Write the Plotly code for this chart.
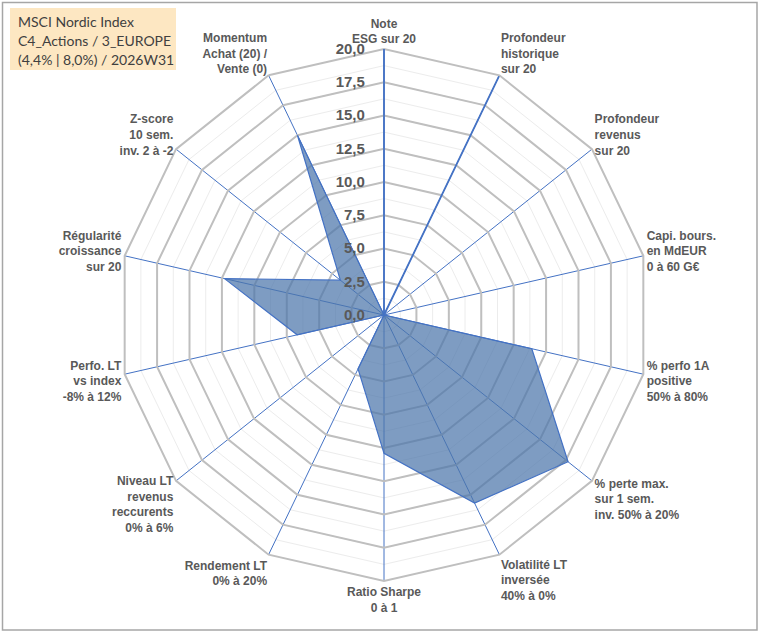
import plotly.graph_objects as go

categories = [
    "Note<br>ESG sur 20",
    "Profondeur<br>historique<br>sur 20",
    "Profondeur<br>revenus<br>sur 20",
    "Capi. bours.<br>en MdEUR<br>0 à 60 G€",
    "% perfo 1A<br>positive<br>50% à 80%",
    "% perte max.<br>sur 1 sem.<br>inv. 50% à 20%",
    "Volatilité LT<br>inversée<br>40% à 0%",
    "Ratio Sharpe<br>0 à 1",
    "Rendement LT<br>0% à 20%",
    "Niveau LT<br>revenus<br>reccurents<br>0% à 6%",
    "Perfo. LT<br>vs index<br>-8% à 12%",
    "Régularité<br>croissance<br>sur 20",
    "Z-score<br>10 sem.<br>inv. 2 à -2",
    "Momentum<br>Achat (20) /<br>Vente (0)",
]
values = [0, 0, 0, 0, 11.4, 17.7, 15.7, 10.4, 4.5, 0, 6.7, 12.3, 4.2, 15.0]
major_ticks = [0, 2.5, 5, 7.5, 10, 12.5, 15, 17.5, 20]
minor_ticks = [i * 1.25 for i in range(17)]
r_max = 20
title_lines = ["MSCI Nordic Index", "C4_Actions / 3_EUROPE", "(4,4% | 8,0%) / 2026W31"]

BLUE = "#4472c4"
GRID = "#bfbfbf"
LABEL = "#595959"
W, H = 760, 633

fig = go.Figure()

fig.add_trace(go.Scatterpolar(r=[0] * len(categories), theta=categories, mode="lines",
                              line=dict(width=0), hoverinfo="skip", showlegend=False,
                              subplot="polar"))

fig.add_trace(go.Scatterpolar(
    r=values + [values[0]], theta=categories + [categories[0]],
    mode="lines", fill="toself", fillcolor="rgba(76,118,170,0.72)",
    line=dict(color=BLUE, width=1.2), showlegend=False, subplot="polar2"))

fig.add_trace(go.Scatterpolar(r=[0, r_max], theta=[categories[1], categories[1]],
                              mode="lines", line=dict(color=BLUE, width=1.8),
                              hoverinfo="skip", showlegend=False, subplot="polar2"))

dom = dict(x=[118 / W, 650 / W], y=[1 - 581 / H, 1 - 49 / H])

title_annotations = [
    dict(text=t, xref="paper", yref="paper", x=16 / W, y=1 - (21 + 19.5 * i) / H,
         xanchor="left", yanchor="middle", align="left", showarrow=False,
         font=dict(family="Lato", size=14, color="#404040"))
    for i, t in enumerate(title_lines)
]

fig.update_layout(
    width=W, height=H,
    margin=dict(l=0, r=0, t=0, b=0),
    paper_bgcolor="white",
    separators=", ",
    polar=dict(
        domain=dom, bgcolor="white", gridshape="linear", hole=0,
        radialaxis=dict(range=[0, r_max], tickvals=minor_ticks, showticklabels=False,
                        gridcolor="#ececec", gridwidth=1, showline=False, ticks=""),
        angularaxis=dict(categoryorder="array", categoryarray=categories,
                         rotation=90, direction="clockwise", showticklabels=False,
                         showgrid=False, showline=False, ticks=""),
    ),
    polar2=dict(
        domain=dom, bgcolor="rgba(0,0,0,0)", gridshape="linear", hole=0,
        radialaxis=dict(range=[0, r_max], tickvals=major_ticks, tickformat=".1f",
                        gridcolor=GRID, gridwidth=2, angle=90, tickangle=90,
                        side="counterclockwise", showline=True, linecolor=BLUE,
                        linewidth=1.8, ticks="outside", ticklen=13,
                        tickcolor="rgba(0,0,0,0)",
                        tickfont=dict(family="Liberation Sans", size=15, color=LABEL,
                                      weight="bold")),
        angularaxis=dict(categoryorder="array", categoryarray=categories,
                         rotation=90, direction="clockwise",
                         gridcolor=BLUE, gridwidth=1, showline=True,
                         linecolor=GRID, linewidth=2, ticks="",
                         tickfont=dict(family="Liberation Sans", size=12, color=LABEL,
                                       weight="bold")),
    ),
    shapes=[
        dict(type="rect", xref="paper", yref="paper",
             x0=2.5 / W, x1=757 / W, y0=1 - 630 / H, y1=1 - 2.5 / H,
             line=dict(color="#a6a6a6", width=1.5)),
        dict(type="rect", xref="paper", yref="paper",
             x0=10 / W, x1=176 / W, y0=1 - 70 / H, y1=1 - 8 / H,
             fillcolor="#fde7c2", line=dict(width=0), layer="below"),
    ],
    annotations=title_annotations,
)

fig.write_html("out.html", config={"displayModeBar": False},
               post_script="document.body.style.margin='0';")
